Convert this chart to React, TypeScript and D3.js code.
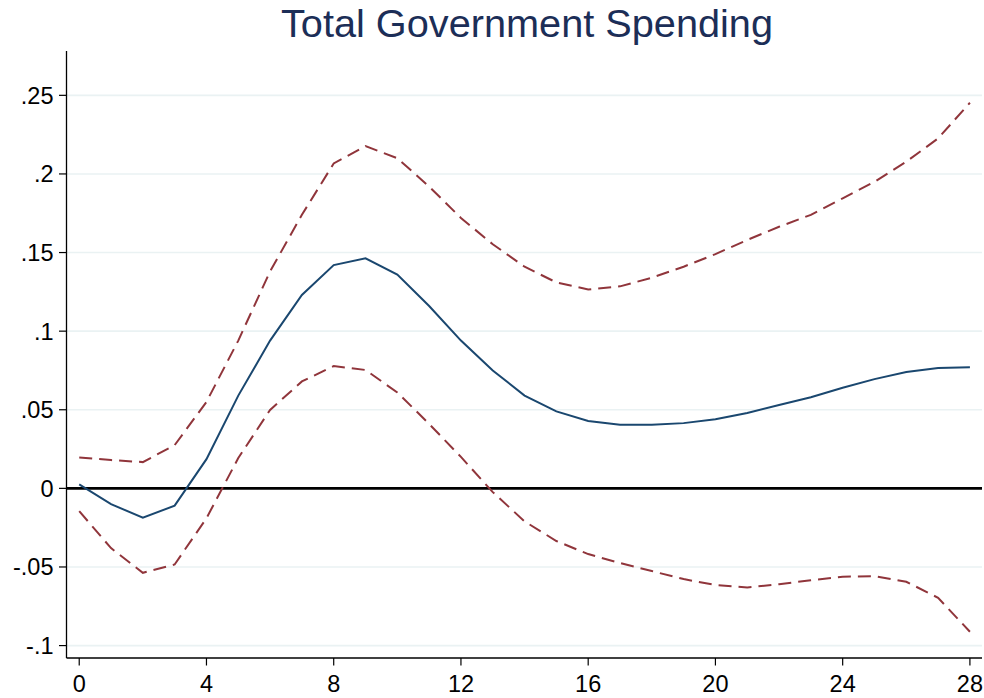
import React from "react";
import * as d3 from "d3";

const horizons = d3.range(0, 29);
const irf = [0.0025, -0.010, -0.0187, -0.011, 0.0186, 0.059, 0.094, 0.123, 0.142, 0.1463, 0.136, 0.116, 0.094, 0.075, 0.059, 0.049, 0.0428, 0.0405, 0.0405, 0.0415, 0.044, 0.048, 0.053, 0.058, 0.064, 0.0695, 0.074, 0.0766, 0.077];
const upper = [0.0197, 0.018, 0.0167, 0.0275, 0.055, 0.094, 0.138, 0.174, 0.2067, 0.2177, 0.21, 0.192, 0.172, 0.1553, 0.141, 0.131, 0.1265, 0.1285, 0.134, 0.141, 0.149, 0.158, 0.1664, 0.174, 0.1845, 0.195, 0.2078, 0.2226, 0.2453];
const lower = [-0.0145, -0.038, -0.0537, -0.0484, -0.019, 0.0193, 0.0499, 0.068, 0.0778, 0.0753, 0.061, 0.041, 0.020, -0.0024, -0.021, -0.0335, -0.0418, -0.0475, -0.0526, -0.0577, -0.0615, -0.063, -0.061, -0.0584, -0.0562, -0.0558, -0.0594, -0.0696, -0.0912];
const yTicks = [-0.1, -0.05, 0, 0.05, 0.1, 0.15, 0.2, 0.25];
const yTickLabels = ["-.1", "-.05", "0", ".05", ".1", ".15", ".2", ".25"];
const xTicks = [0, 4, 8, 12, 16, 20, 24, 28];
const title = "Total Government Spending";

const W = 984, H = 698;
const left = 66.5, right = 982, top = 51, bottom = 658;

export default function App() {
  const x = d3.scaleLinear().domain([-0.4, 28.38]).range([left, right]);
  const y = d3.scaleLinear().domain([-0.1079, 0.2782]).range([bottom, top]);
  const line = (vals: number[]) =>
    d3.line<number>().x((_, i) => x(horizons[i])).y((v) => y(v))(vals) || "";
  const font = "'Liberation Sans', Arial, sans-serif";
  return (
    <svg width={W} height={H} style={{ position: "absolute", left: 0, top: 0, background: "#fff" }} fontFamily={font}>
      <rect x={0} y={0} width={W} height={H} fill="#fff" />
      <text x={527} y={37} textAnchor="middle" fontSize={39.7} fill="#1c2e57">{title}</text>
      {yTicks.map((t, i) => (
        <g key={"g" + i}>
          {t !== 0 && (
            <line x1={left} x2={right} y1={y(t)} y2={y(t)} stroke="#eaf2f3" strokeWidth={1.6} />
          )}
          <line x1={left - 7.5} x2={left} y1={y(t)} y2={y(t)} stroke="#000" strokeWidth={1.2} />
          <text x={53.5} y={y(t)} dy="0.36em" textAnchor="end" fontSize={23.5} fill="#000">{yTickLabels[i]}</text>
        </g>
      ))}
      {xTicks.map((t) => (
        <g key={"x" + t}>
          <line x1={x(t)} x2={x(t)} y1={bottom} y2={bottom + 7.5} stroke="#000" strokeWidth={1.2} />
          <text x={x(t)} y={692} textAnchor="middle" fontSize={23.5} fill="#000">{t}</text>
        </g>
      ))}
      <line x1={left} x2={right} y1={y(0)} y2={y(0)} stroke="#000" strokeWidth={2.6} />
      <path d={line(upper)} fill="none" stroke="#90353b" strokeWidth={2} strokeDasharray="13,7" />
      <path d={line(lower)} fill="none" stroke="#90353b" strokeWidth={2} strokeDasharray="13,7" />
      <path d={line(irf)} fill="none" stroke="#1a476f" strokeWidth={2} />
      <line x1={left} x2={left} y1={top} y2={bottom} stroke="#000" strokeWidth={1.3} />
      <line x1={left} x2={right} y1={bottom} y2={bottom} stroke="#000" strokeWidth={1.3} />
    </svg>
  );
}
